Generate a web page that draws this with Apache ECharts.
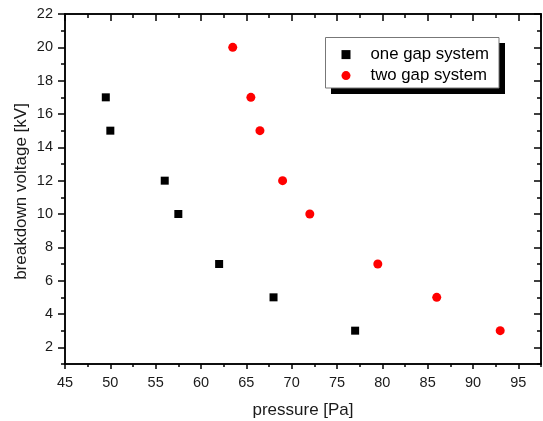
<!DOCTYPE html>
<html><head><meta charset="utf-8">
<script src="https://cdn.jsdelivr.net/npm/echarts@6/dist/echarts.min.js"></script>
<style>html,body{margin:0;padding:0;background:#fff}#c{width:543px;height:421px}</style>
</head><body><div id="c"></div>
<script>
const oneGapPressure = [49.5, 50, 56, 57.5, 62, 68, 77];
const oneGapVoltage = [17, 15, 12, 10, 7, 5, 3];
const twoGapPressure = [63.5, 65.5, 66.5, 69, 72, 79.5, 86, 93];
const twoGapVoltage = [20, 17, 15, 12, 10, 7, 5, 3];
const xMajorTicks = [45, 50, 55, 60, 65, 70, 75, 80, 85, 90, 95];
const xMinorTicks = [47.5, 52.5, 57.5, 62.5, 67.5, 72.5, 77.5, 82.5, 87.5, 92.5, 97.5];
const yMajorTicks = [2, 4, 6, 8, 10, 12, 14, 16, 18, 20, 22];
const yMinorTicks = [1, 3, 5, 7, 9, 11, 13, 15, 17, 19, 21];
const seriesNames = ['one gap system', 'two gap system'];
const xTitle = 'pressure [Pa]';
const yTitle = 'breakdown voltage [kV]';

const X_MIN = 45, X_MAX = 97.5, Y_MIN = 1, Y_MAX = 22;
const FONT = 'Liberation Sans, Arial, Helvetica, sans-serif';
const lineStyle = { color: '#000', width: 1.5 };

function xAx(grid, pos, ticks, len, inside, labels) {
  return {
    type: 'value', gridIndex: grid, position: pos, min: X_MIN, max: X_MAX,
    axisLine: { show: true, onZero: false, lineStyle },
    axisTick: { show: true, inside, length: len, customValues: ticks, lineStyle },
    axisLabel: labels ? { show: true, customValues: ticks, color: '#1a1a1a', fontSize: 14.5, fontFamily: FONT, margin: 11 } : { show: false },
    splitLine: { show: false },
    name: labels ? xTitle : '', nameLocation: 'middle', nameGap: 38,
    nameTextStyle: { color: '#1a1a1a', fontSize: 17, fontFamily: FONT }
  };
}
function yAx(grid, pos, ticks, len, inside, labels) {
  return {
    type: 'value', gridIndex: grid, position: pos, min: Y_MIN, max: Y_MAX,
    axisLine: { show: true, onZero: false, lineStyle },
    axisTick: { show: true, inside, length: len, customValues: ticks, lineStyle },
    axisLabel: labels ? { show: true, customValues: ticks, color: '#1a1a1a', fontSize: 14.5, fontFamily: FONT, margin: 12 } : { show: false },
    splitLine: { show: false },
    name: labels ? yTitle : '', nameLocation: 'middle', nameGap: 35, nameRotate: 90,
    nameMoveOverlap: false,
    nameTextStyle: { color: '#1a1a1a', fontSize: 17, fontFamily: FONT, padding: [0, 5, 0, 0] }
  };
}

const gridRect = { left: 65, top: 14, width: 476, height: 350, outerBoundsMode: 'none', containLabel: false };
const chart = echarts.init(document.getElementById('c'), null, { renderer: 'canvas' });
chart.setOption({
  animation: false,
  backgroundColor: '#fff',
  grid: [Object.assign({}, gridRect), Object.assign({}, gridRect)],
  graphic: [
    { type: 'rect', z: 1, shape: { x: 331, y: 43, width: 174, height: 51 }, style: { fill: '#000' } },
    { type: 'rect', z: 2, shape: { x: 325.5, y: 37.5, width: 173.5, height: 50.5 }, style: { fill: '#fff', stroke: '#777', lineWidth: 1 } }
  ],
  legend: {
    orient: 'vertical', left: 341.5, top: 45.6,
    data: seriesNames,
    itemWidth: 9, itemHeight: 9, itemGap: 3,
    padding: 0, z: 5,
    textStyle: { color: '#000', fontSize: 16.8, fontFamily: FONT, lineHeight: 18, padding: [0, 0, 0, 15] }
  },
  xAxis: [
    xAx(0, 'bottom', xMajorTicks, 5, false, true),
    xAx(0, 'top', xMajorTicks, 7, true, false),
    xAx(1, 'bottom', xMinorTicks, 3, false, false),
    xAx(1, 'top', xMinorTicks, 4, true, false)
  ],
  yAxis: [
    yAx(0, 'left', yMajorTicks, 7, false, true),
    yAx(0, 'right', yMajorTicks, 7, true, false),
    yAx(1, 'left', yMinorTicks, 4, false, false),
    yAx(1, 'right', yMinorTicks, 4, true, false)
  ],
  series: [
    {
      name: seriesNames[0], type: 'scatter', xAxisIndex: 0, yAxisIndex: 0,
      symbol: 'rect', symbolSize: 8, itemStyle: { color: '#000', opacity: 1 },
      data: oneGapPressure.map((p, i) => [p, oneGapVoltage[i]])
    },
    {
      name: seriesNames[1], type: 'scatter', xAxisIndex: 0, yAxisIndex: 0,
      symbol: 'circle', symbolSize: 9, itemStyle: { color: '#ff0000', opacity: 1 },
      data: twoGapPressure.map((p, i) => [p, twoGapVoltage[i]])
    }
  ]
});
</script></body></html>
